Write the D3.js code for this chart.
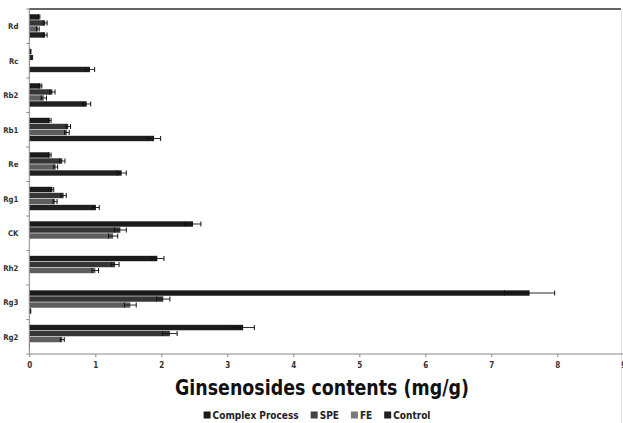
<!DOCTYPE html>
<html>
<head>
<meta charset="utf-8">
<script src="https://cdn.jsdelivr.net/npm/d3@7"></script>
<style>
  body { margin: 0; background: #fff; }
  #chart text { font-family: "Liberation Sans Narrow", "DejaVu Sans Condensed", "Liberation Sans", sans-serif; }
</style>
</head>
<body>
<div id="chart"></div>
<script>
const categories = ['Rd', 'Rc', 'Rb2', 'Rb1', 'Re', 'Rg1', 'CK', 'Rh2', 'Rg3', 'Rg2'];
const seriesNames = ['Complex Process', 'SPE', 'FE', 'Control'];

// values per series, in category order (mg/g)
const complexProcess = [0.15, 0.02, 0.17, 0.31, 0.31, 0.35, 2.48, 1.94, 7.58, 3.24];
const spe            = [0.24, 0.04, 0.35, 0.59, 0.50, 0.52, 1.38, 1.30, 2.03, 2.13];
const fe             = [0.13, 0.01, 0.22, 0.57, 0.40, 0.39, 1.27, 1.00, 1.53, 0.50];
const control        = [0.24, 0.92, 0.87, 1.89, 1.40, 1.01, 0, 0, 0.03, 0.01];

// error bar half widths
const complexProcessErr = [0.01, 0.005, 0.02, 0.02, 0.02, 0.02, 0.12, 0.10, 0.38, 0.17];
const speErr            = [0.03, 0.01, 0.04, 0.035, 0.04, 0.04, 0.09, 0.06, 0.10, 0.11];
const feErr             = [0.02, 0, 0.04, 0.035, 0.03, 0.03, 0.07, 0.05, 0.09, 0.03];
const controlErr        = [0.03, 0.07, 0.06, 0.10, 0.07, 0.05, 0, 0, 0, 0];

const xTicks = [0, 1, 2, 3, 4, 5, 6, 7, 8, 9];
const colors = ['#1b1b1b', '#363636', '#5e5e5e', '#202020'];
const legendColors = ['#1b1b1b', '#444444', '#7a7a7a', '#202020'];

const width = 623, height = 423;
const margin = { left: 29.3, top: 9, right: 0, bottom: 69 };

const values = [complexProcess, spe, fe, control];
const errors = [complexProcessErr, speErr, feErr, controlErr];

const svg = d3.select('#chart').append('svg')
  .attr('width', width)
  .attr('height', height);

const x = d3.scaleLinear().domain([0, 9]).range([margin.left, margin.left + 9 * 66]);
const y = d3.scaleBand().domain(categories)
  .range([margin.top, height - margin.bottom + 0.1])
  .paddingInner(0.304).paddingOuter(0.152);
const ySub = d3.scaleBand().domain(seriesNames).range([0, y.bandwidth()]);

// frame lines
svg.append('line')
  .attr('x1', margin.left).attr('x2', 621)
  .attr('y1', margin.top).attr('y2', margin.top)
  .attr('stroke', '#333').attr('stroke-width', 1.3);
svg.append('line')
  .attr('x1', 621.5).attr('x2', 621.5)
  .attr('y1', margin.top + 1).attr('y2', height)
  .attr('stroke', '#e2e2e2').attr('stroke-width', 1);

// bars
const rows = [];
categories.forEach((c, i) => {
  seriesNames.forEach((s, j) => {
    rows.push({ cat: c, series: s, idx: j, value: values[j][i], err: errors[j][i] });
  });
});

const g = svg.append('g');
g.selectAll('rect.bar')
  .data(rows)
  .join('rect')
  .attr('class', 'bar')
  .attr('x', x(0))
  .attr('y', (d) => y(d.cat) + ySub(d.series))
  .attr('width', (d) => x(d.value) - x(0))
  .attr('height', ySub.bandwidth() - 0.6)
  .attr('fill', (d) => colors[d.idx]);

// error bars
const eb = g.selectAll('g.err')
  .data(rows.filter((d) => d.err > 0))
  .join('g')
  .attr('class', 'err')
  .attr('transform', (d) => `translate(0,${y(d.cat) + ySub(d.series) + ySub.bandwidth() / 2 - 0.3})`);
eb.append('line')
  .attr('x1', (d) => x(d.value - d.err)).attr('x2', (d) => x(d.value + d.err))
  .attr('stroke', '#111').attr('stroke-width', 0.9);
eb.append('line')
  .attr('x1', (d) => x(d.value + d.err)).attr('x2', (d) => x(d.value + d.err))
  .attr('y1', -2.5).attr('y2', 2.5)
  .attr('stroke', '#111').attr('stroke-width', 1);
eb.append('line')
  .attr('x1', (d) => x(d.value - d.err)).attr('x2', (d) => x(d.value - d.err))
  .attr('y1', -2.5).attr('y2', 2.5)
  .attr('stroke', '#111').attr('stroke-width', 1);

// y axis
const yBottom = height - margin.bottom;
svg.append('line')
  .attr('x1', margin.left).attr('x2', margin.left)
  .attr('y1', margin.top).attr('y2', yBottom)
  .attr('stroke', '#888');
const bounds = d3.range(categories.length + 1).map((k) => margin.top + k * y.step());
svg.selectAll('line.ytick')
  .data(bounds)
  .join('line')
  .attr('class', 'ytick')
  .attr('x1', margin.left - 3).attr('x2', margin.left)
  .attr('y1', (d) => d).attr('y2', (d) => d)
  .attr('stroke', '#888');
svg.selectAll('text.ylab')
  .data(categories)
  .join('text')
  .attr('class', 'ylab')
  .attr('x', 18.5)
  .attr('y', (d) => y(d) + y.bandwidth() / 2 + 3)
  .attr('text-anchor', 'end')
  .attr('font-size', 7.8)
  .attr('font-weight', 'bold')
  .attr('fill', '#333')
  .text((d) => d);

// x axis
const xAxis = d3.axisBottom(x).tickValues(xTicks).tickSize(3).tickSizeOuter(0).tickPadding(5);
const xg = svg.append('g')
  .attr('transform', `translate(0,${yBottom})`)
  .call(xAxis);
xg.select('.domain').attr('stroke', '#888').attr('d', `M${margin.left},0H${width}`);
xg.selectAll('.tick line').attr('stroke', '#888');
xg.selectAll('.tick text')
  .attr('font-size', 8)
  .attr('font-weight', 'bold')
  .attr('fill', '#333');

// axis title
svg.append('text')
  .attr('x', 322)
  .attr('y', 395)
  .attr('text-anchor', 'middle')
  .attr('font-size', 22)
  .attr('font-weight', 'bold')
  .attr('fill', '#111')
  .attr('textLength', 294)
  .attr('lengthAdjust', 'spacingAndGlyphs')
  .text('Ginsenosides  contents (mg/g)');

// legend
const legend = svg.append('g');
const items = legend.selectAll('g')
  .data(seriesNames)
  .join('g');
items.append('rect')
  .attr('width', 7).attr('height', 7)
  .attr('y', -7.5)
  .attr('fill', (d, i) => legendColors[i]);
items.append('text')
  .attr('x', 9)
  .attr('font-size', 10)
  .attr('font-weight', 'bold')
  .attr('fill', '#222')
  .text((d) => d);
let lx = 0;
const gap = 12;
items.each(function() {
  const w = 9 + this.querySelector('text').getComputedTextLength();
  d3.select(this).attr('transform', `translate(${lx},0)`);
  lx += w + gap;
});
const legendW = lx - gap;
legend.attr('transform', `translate(${317 - legendW / 2},419)`);
</script>
</body>
</html>
